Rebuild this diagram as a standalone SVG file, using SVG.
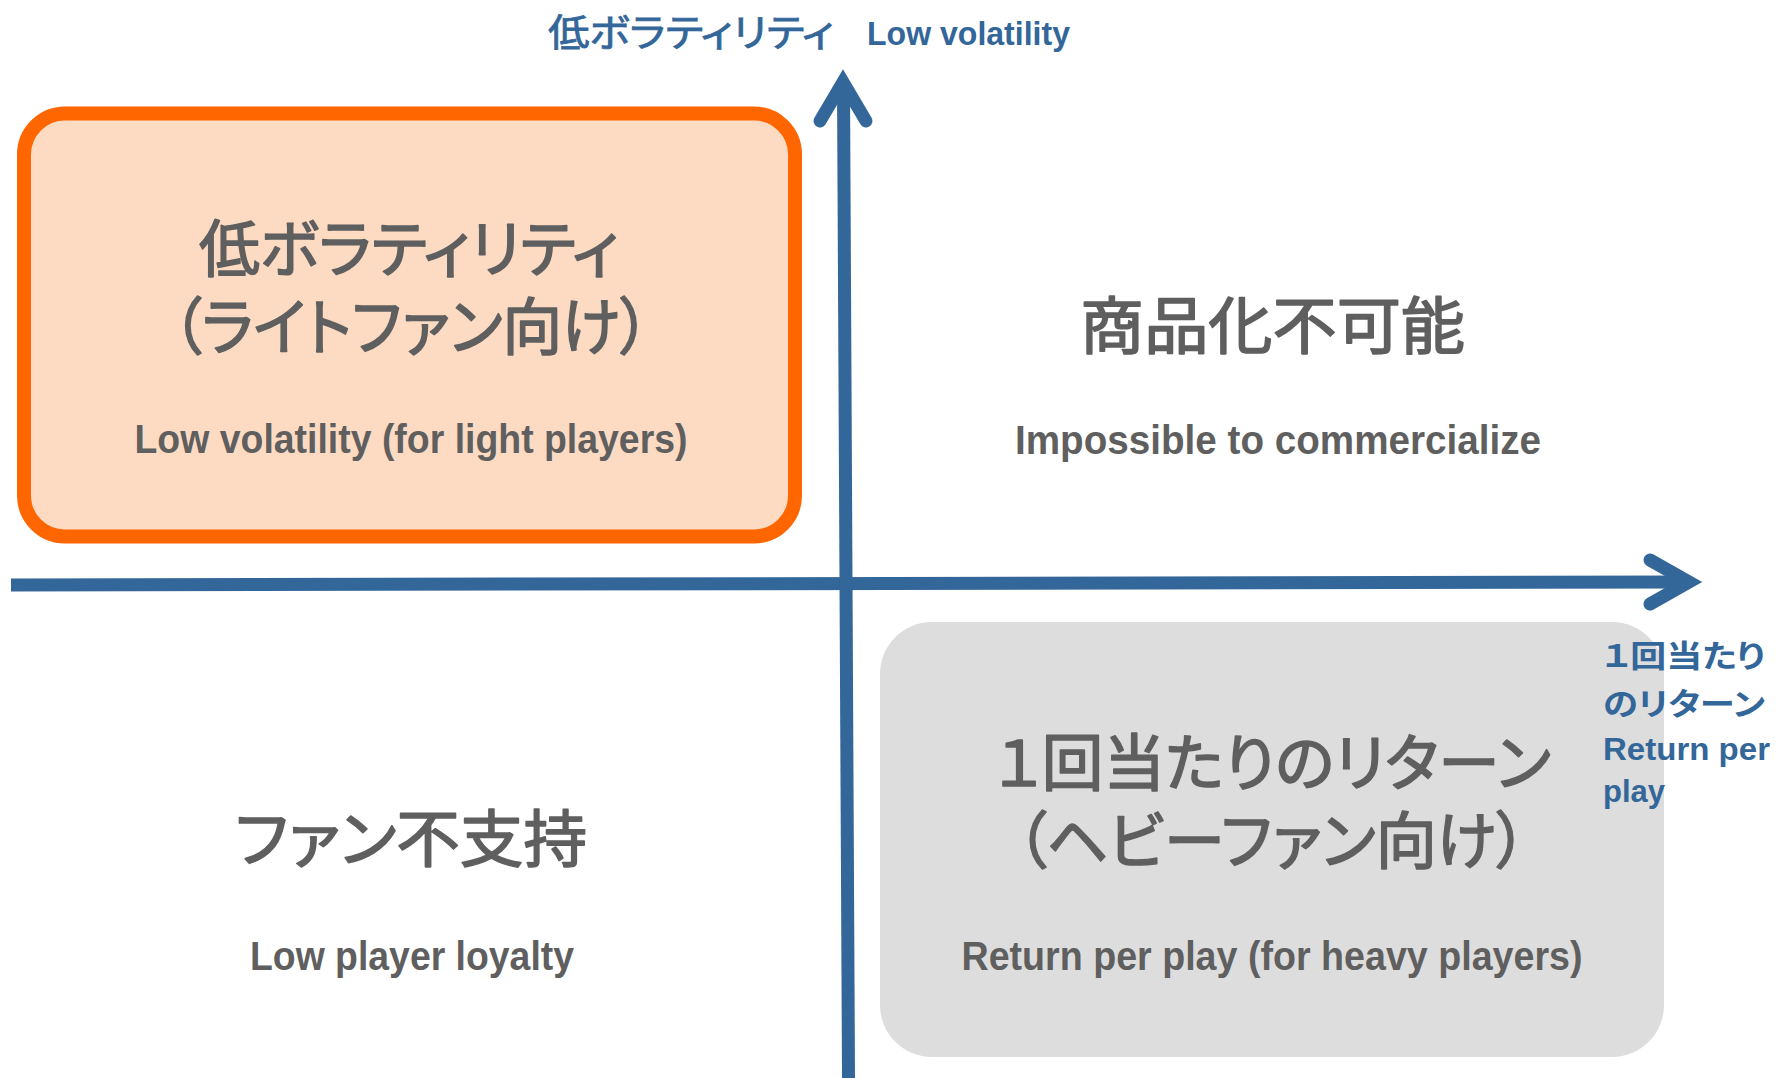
<svg xmlns="http://www.w3.org/2000/svg" width="1791" height="1078" viewBox="0 0 1791 1078">
  <style>
    .jp { font-family: "Noto Sans CJK JP", "Noto Sans CJK SC", sans-serif; font-feature-settings: "palt" 1; }
    .head { font-size: 62px; fill: #5f5f5f; stroke: #5f5f5f; stroke-width: 1.6; stroke-linejoin: round; font-weight: 400; text-anchor: middle; }
    .sub { font-family: "Liberation Sans", Arial, sans-serif; font-weight: bold; font-size: 40px; fill: #5f5f5f; text-anchor: middle; }
    .blue { fill: #336699; }
    .lat { font-family: "Liberation Sans", Arial, sans-serif; font-weight: bold; }
    .axis { stroke: #336699; stroke-width: 13; fill: none; }
    .head-arrow { stroke: #336699; stroke-width: 13; fill: none; stroke-linecap: round; stroke-linejoin: miter; stroke-miterlimit: 6; }
  </style>
  <rect width="1791" height="1078" fill="#ffffff"/>

  <g id="node-low-volatility">
    <rect x="24" y="113.5" width="771" height="423" rx="41" ry="41" fill="#FDDBC3" stroke="#FF6600" stroke-width="14"/>
    <text class="jp head" x="409" y="272" textLength="420" lengthAdjust="spacingAndGlyphs">低ボラティリティ</text>
    <text class="jp head" x="411" y="350" textLength="478" lengthAdjust="spacingAndGlyphs">（ライトファン向け）</text>
    <text class="sub" x="411" y="453" textLength="553" lengthAdjust="spacingAndGlyphs">Low volatility (for light players)</text>
  </g>

  <g id="node-impossible">
    <text class="jp head" x="1272.5" y="349" textLength="385" lengthAdjust="spacingAndGlyphs">商品化不可能</text>
    <text class="sub" x="1278" y="454" textLength="526" lengthAdjust="spacingAndGlyphs">Impossible to commercialize</text>
  </g>

  <g id="node-low-loyalty">
    <text class="jp head" x="411" y="862" textLength="352" lengthAdjust="spacingAndGlyphs">ファン不支持</text>
    <text class="sub" x="412" y="970" textLength="324" lengthAdjust="spacingAndGlyphs">Low player loyalty</text>
  </g>

  <g id="node-return-per-play">
    <rect x="880" y="622" width="784" height="435" rx="52" ry="52" fill="#DDDDDD"/>
    <text class="jp head" x="1273" y="786" textLength="556" lengthAdjust="spacingAndGlyphs">１回当たりのリターン</text>
    <text class="jp head" x="1271.5" y="864" textLength="511" lengthAdjust="spacingAndGlyphs">（ヘビーファン向け）</text>
    <text class="sub" x="1272" y="970" textLength="621" lengthAdjust="spacingAndGlyphs">Return per play (for heavy players)</text>
  </g>

  <g id="connectors">
    <line class="axis" x1="11" y1="585" x2="1690" y2="582"/>
    <polyline class="head-arrow" points="1650,560 1689,582 1650,604"/>
    <line class="axis" x1="843.5" y1="84" x2="848.5" y2="1078"/>
    <polyline class="head-arrow" points="820,121 843,82 866,121"/>
  </g>

  <g id="label-y-axis">
    <text class="jp blue" x="548" y="45.5" font-size="38" stroke="#336699" stroke-width="0.8" textLength="286" lengthAdjust="spacingAndGlyphs">低ボラティリティ</text>
    <text class="lat blue" x="867" y="45" font-size="33" textLength="203" lengthAdjust="spacingAndGlyphs">Low volatility</text>
  </g>

  <g id="label-x-axis">
    <text class="jp blue" x="1603" y="667" font-size="31" font-weight="bold" textLength="162" lengthAdjust="spacingAndGlyphs">１回当たり</text>
    <text class="jp blue" x="1603" y="715" font-size="31" font-weight="bold" textLength="162" lengthAdjust="spacingAndGlyphs">のリターン</text>
    <text class="lat blue" x="1603" y="760" font-size="31" textLength="167" lengthAdjust="spacingAndGlyphs">Return per</text>
    <text class="lat blue" x="1603" y="802" font-size="31" textLength="62" lengthAdjust="spacingAndGlyphs">play</text>
  </g>
</svg>
